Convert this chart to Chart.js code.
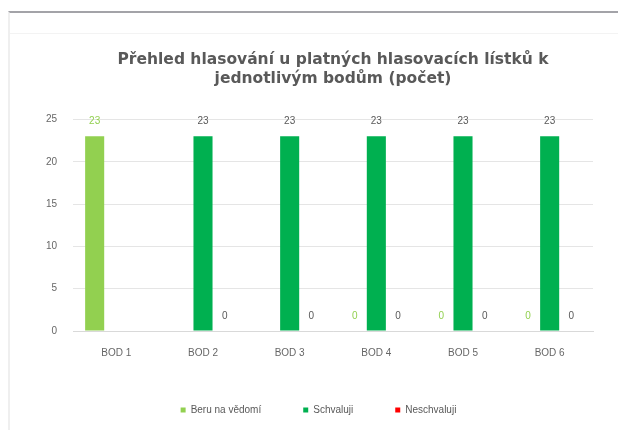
<!DOCTYPE html>
<html lang="cs">
<head>
<meta charset="UTF-8">
<title>Přehled hlasování</title>
<script src="https://cdn.jsdelivr.net/npm/chart.js"></script>
<style>
  html, body { margin: 0; padding: 0; background: #fff; overflow: hidden; }
  .frame { position: absolute; left: 8px; top: 11px; width: 610px; height: 419px;
           border-top: 2px solid #a3a3a8; border-left: 2px solid #efefef; box-sizing: border-box; }
  .frame .inner { position: absolute; left: 0; top: 20px; right: 0; border-top: 1px solid #f3f3f3; }
  .wrap { position: absolute; left: 0; top: 0; width: 618px; height: 430px; }
</style>
</head>
<body>
<div class="frame"><div class="inner"></div></div>
<div class="wrap"><canvas id="chart" width="618" height="430"></canvas></div>

<script>
const categories = ["BOD 1", "BOD 2", "BOD 3", "BOD 4", "BOD 5", "BOD 6"];
const beruNaVedomi = [23, null, null, 0, 0, 0];
const schvaluji = [null, 23, 23, 23, 23, 23];
const neschvaluji = [null, 0, 0, 0, 0, 0];
const yTicks = [0, 5, 10, 15, 20, 25];

const gray = "#595959";
const font = "Arial, 'Liberation Sans', sans-serif";

// popisky hodnot nad sloupci
const valueLabels = {
  id: "valueLabels",
  afterDatasetsDraw(chart) {
    const ctx = chart.ctx;
    ctx.save();
    ctx.font = "10px " + font;
    ctx.textAlign = "center";
    ctx.textBaseline = "bottom";
    chart.data.datasets.forEach((ds, i) => {
      const meta = chart.getDatasetMeta(i);
      meta.data.forEach((bar, j) => {
        const v = ds.data[j];
        if (v === null || v === undefined) return;
        ctx.fillStyle = ds.labelColor;
        ctx.fillText(String(v), bar.x, bar.y - 10);
      });
    });
    ctx.restore();
  }
};

new Chart(document.getElementById("chart"), {
  type: "bar",
  data: {
    labels: categories,
    datasets: [
      { label: "Beru na vědomí", data: beruNaVedomi, backgroundColor: "#92d050", labelColor: "#92d050" },
      { label: "Schvaluji", data: schvaluji, backgroundColor: "#00b050", labelColor: gray },
      { label: "Neschvaluji", data: neschvaluji, backgroundColor: "#ff0000", labelColor: gray }
    ]
  },
  options: {
    responsive: false,
    animation: false,
    datasets: { bar: { categoryPercentage: 0.75, barPercentage: 0.88 } },
    layout: { padding: { left: 44, right: 25, top: 50, bottom: 5 } },
    scales: {
      x: {
        grid: { display: false },
        border: { display: true, color: "#d9d9d9" },
        ticks: { color: "#666", maxRotation: 0, font: { size: 10, family: font }, padding: 8 },
        afterFit(scale) { scale.height = 32; }
      },
      y: {
        min: 0, max: 25,
        afterBuildTicks(scale) { scale.ticks = yTicks.map(v => ({ value: v })); },
        grid: { color: "#e5e5e5", drawTicks: false },
        border: { display: false },
        ticks: { color: "#666", font: { size: 10, family: font }, padding: 16 },
        afterFit(scale) { scale.width = 29; }
      }
    },
    plugins: {
      title: {
        display: true,
        fullSize: false,
        text: ["Přehled hlasování u platných hlasovacích lístků k", "jednotlivým bodům (počet)"],
        color: gray,
        font: { size: 15.5, weight: "bold", family: "'DejaVu Sans', Verdana, sans-serif", lineHeight: 1.24 },
        padding: { top: 0, bottom: 31 }
      },
      legend: {
        position: "bottom",
        labels: {
          usePointStyle: true, pointStyle: "rect", boxWidth: 5, boxHeight: 5,
          color: gray, padding: 42,
          font: { size: 10, family: font }
        }
      },
      tooltip: { enabled: false }
    }
  },
  plugins: [valueLabels]
});
</script>
</body>
</html>
